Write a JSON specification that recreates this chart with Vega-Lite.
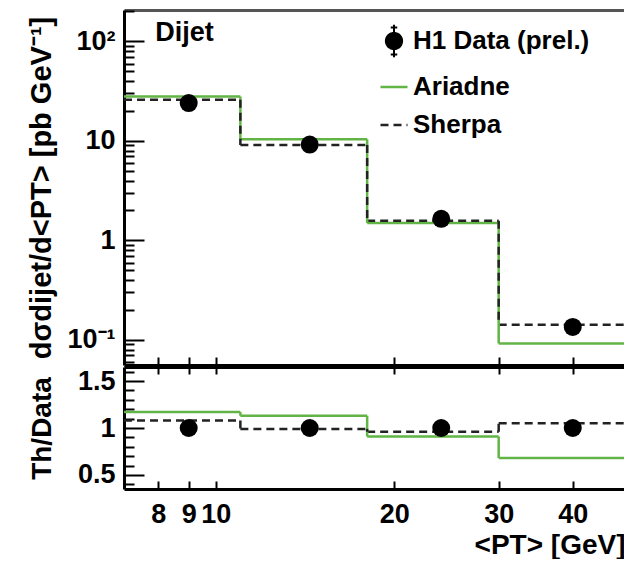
{
  "$schema": "https://vega.github.io/schema/vega-lite/v6.json",
  "background": "white",
  "padding": {"left": 26, "top": 10, "right": 0, "bottom": 0},
  "spacing": 0,
  "config": {
    "view": {"stroke": null},
    "font": "Liberation Sans",
    "axis": {
      "labelFont": "Liberation Sans", "labelFontWeight": "bold", "labelFontSize": 27, "labelColor": "black",
      "titleFont": "Liberation Sans", "titleFontWeight": "bold", "titleFontSize": 28, "titleColor": "black",
      "domainColor": "black", "domainWidth": 3, "tickColor": "black", "tickWidth": 2, "grid": false
    }
  },
  "datasets": {
    "spectrum": [
      {"lo": 7, "hi": 11, "pt": 9, "data": 24, "Ariadne": 28, "Sherpa": 26},
      {"lo": 11, "hi": 18, "pt": 14.4, "data": 9.2, "Ariadne": 10.4, "Sherpa": 9.1},
      {"lo": 18, "hi": 30, "pt": 24, "data": 1.65, "Ariadne": 1.5, "Sherpa": 1.58},
      {"lo": 30, "hi": 50, "pt": 40, "data": 0.135, "Ariadne": 0.092, "Sherpa": 0.142}
    ],
    "ratio": [
      {"lo": 7, "hi": 11, "pt": 9, "data": 1, "Ariadne": 1.17, "Sherpa": 1.08},
      {"lo": 11, "hi": 18, "pt": 14.4, "data": 1, "Ariadne": 1.13, "Sherpa": 0.99},
      {"lo": 18, "hi": 30, "pt": 24, "data": 1, "Ariadne": 0.91, "Sherpa": 0.96},
      {"lo": 30, "hi": 50, "pt": 40, "data": 1, "Ariadne": 0.68, "Sherpa": 1.05}
    ]
  },
  "resolve": {"scale": {"color": "independent", "strokeDash": "independent"}, "legend": {"color": "independent"}},
  "vconcat": [
    {
      "width": 501,
      "height": 355,
      "resolve": {"axis": {"y": "independent"}},
      "layer": [
        {
          "data": {"name": "spectrum"},
          "transform": [{"fold": ["Ariadne", "Sherpa"], "as": ["model", "xsec"]}],
          "mark": {"type": "rule", "clip": true, "strokeWidth": 2.5},
          "encoding": {
            "x": {"field": "lo", "type": "quantitative",
              "scale": {"type": "log", "domain": [7, 49], "nice": false},
              "axis": {"orient": "bottom", "values": [8, 9, 10, 20, 30, 40], "labels": false, "tickSize": -8, "title": null}},
            "x2": {"field": "hi"},
            "y": {"field": "xsec", "type": "quantitative",
              "scale": {"type": "log", "domain": [0.056, 207], "nice": false},
              "axis": {"orient": "left", "values": [0.1, 1, 10, 100], "offset": -20, "tickSize": 20, "labelPadding": 9,
                "domain": false, "labelOverlap": false,
                "labelExpr": "datum.value == 100 ? '10²' : datum.value == 0.1 ? '10⁻¹' : datum.value == 10 ? '10' : '1'",
                "title": "dσdijet/d<PT> [pb GeV⁻¹]", "titleFontSize": 29, "titleX": -88}},
            "color": {"field": "model", "type": "nominal",
              "scale": {"domain": ["H1 Data (prel.)", "Ariadne", "Sherpa"], "range": ["black", "#62b446", "#222222"]},
              "legend": {
                "orient": "none", "legendX": 257, "legendY": 18, "title": null, "padding": 0,
                "labelFont": "Liberation Sans", "labelFontSize": 26, "labelFontWeight": "bold", "labelColor": "black", "labelLimit": 400,
                "labelOffset": 6, "rowPadding": 12, "symbolSize": 900, "symbolStrokeWidth": 2.5,
                "encode": {"symbols": {"update": {
                  "shape": {"signal": "datum.value === 'H1 Data (prel.)' ? 'M-0.45,0A0.45,0.45 0 1 0 0.45,0A0.45,0.45 0 1 0 -0.45,0Z M0,-0.9V0.9 M-0.18,-0.75H0.18 M-0.18,0.75H0.18' : 'stroke'"},
                  "size": {"signal": "datum.value === 'H1 Data (prel.)' ? 1296 : 729"},
                  "fill": {"signal": "datum.value === 'H1 Data (prel.)' ? 'black' : 'transparent'"},
                  "strokeDash": {"signal": "datum.value === 'Sherpa' ? [8, 5] : [1, 0]"},
                  "strokeWidth": {"signal": "datum.value === 'H1 Data (prel.)' ? 2 : 2.5"}
                }}}
              }},
            "strokeDash": {"field": "model", "type": "nominal",
              "scale": {"domain": ["Ariadne", "Sherpa"], "range": [[1, 0], [8, 5]]}, "legend": null}
          }
        },
        {
          "data": {"name": "spectrum"},
          "transform": [
            {"fold": ["Ariadne", "Sherpa"], "as": ["model", "xsec"]},
            {"window": [{"op": "lead", "field": "xsec", "as": "next"}], "groupby": ["model"], "sort": [{"field": "lo"}]},
            {"filter": "datum.next != null"}
          ],
          "mark": {"type": "rule", "clip": true, "strokeWidth": 2.5},
          "encoding": {
            "x": {"field": "hi", "type": "quantitative",
              "axis": {"orient": "top", "ticks": false, "labels": false, "domainColor": "#555555", "title": null}},
            "y": {"field": "xsec", "type": "quantitative",
              "axis": {"orient": "left",
                "values": [0.06, 0.07, 0.08, 0.09, 0.2, 0.3, 0.4, 0.5, 0.6, 0.7, 0.8, 0.9, 2, 3, 4, 5, 6, 7, 8, 9, 20, 30, 40, 50, 60, 70, 80, 90, 200],
                "offset": -10, "tickSize": 10, "labels": false, "domain": false, "title": null}},
            "y2": {"field": "next"},
            "color": {"field": "model", "type": "nominal"},
            "strokeDash": {"field": "model", "type": "nominal"}
          }
        },
        {
          "data": {"name": "spectrum"},
          "mark": {"type": "point", "shape": "circle", "filled": true, "size": 324, "color": "black", "opacity": 1},
          "encoding": {
            "x": {"field": "pt", "type": "quantitative", "axis": null},
            "y": {"field": "data", "type": "quantitative",
              "axis": {"orient": "left", "ticks": false, "labels": false, "title": null}}
          }
        },
        {
          "data": {"values": [{"label": "Dijet"}]},
          "mark": {"type": "text", "align": "left", "baseline": "alphabetic", "font": "Liberation Sans", "fontSize": 27, "fontWeight": "bold", "color": "black"},
          "encoding": {
            "text": {"field": "label"},
            "x": {"datum": 7.9, "type": "quantitative", "axis": null},
            "y": {"datum": 100, "type": "quantitative", "axis": null}
          }
        }
      ]
    },
    {
      "width": 501,
      "height": 122,
      "resolve": {"axis": {"y": "independent"}},
      "layer": [
        {
          "data": {"name": "ratio"},
          "transform": [{"fold": ["Ariadne", "Sherpa"], "as": ["model", "ratio"]}],
          "mark": {"type": "rule", "clip": true, "strokeWidth": 2.5},
          "encoding": {
            "x": {"field": "lo", "type": "quantitative",
              "scale": {"type": "log", "domain": [7, 49], "nice": false},
              "axis": {"orient": "bottom", "values": [8, 9, 10, 20, 30, 40], "format": "d", "labelOverlap": false,
                "tickSize": -8, "labelPadding": 20, "title": "<PT> [GeV]", "titleAnchor": "end", "titlePadding": 4}},
            "x2": {"field": "hi"},
            "y": {"field": "ratio", "type": "quantitative",
              "scale": {"domain": [0.35, 1.65], "nice": false, "zero": false},
              "axis": {"orient": "left", "values": [0.5, 1, 1.5], "format": "~g", "offset": -20, "tickSize": 20, "labelPadding": 9,
                "domain": false, "labelOverlap": false, "title": "Th/Data", "titleX": -88}},
            "color": {"field": "model", "type": "nominal",
              "scale": {"domain": ["Ariadne", "Sherpa"], "range": ["#62b446", "#222222"]}, "legend": null},
            "strokeDash": {"field": "model", "type": "nominal",
              "scale": {"domain": ["Ariadne", "Sherpa"], "range": [[1, 0], [8, 5]]}, "legend": null}
          }
        },
        {
          "data": {"name": "ratio"},
          "transform": [
            {"fold": ["Ariadne", "Sherpa"], "as": ["model", "ratio"]},
            {"window": [{"op": "lead", "field": "ratio", "as": "next"}], "groupby": ["model"], "sort": [{"field": "lo"}]},
            {"filter": "datum.next != null"}
          ],
          "mark": {"type": "rule", "clip": true, "strokeWidth": 2.5},
          "encoding": {
            "x": {"field": "hi", "type": "quantitative",
              "axis": {"orient": "top", "values": [8, 9, 10, 20, 30, 40], "labels": false, "tickSize": -7, "title": null}},
            "y": {"field": "ratio", "type": "quantitative",
              "axis": {"orient": "left", "values": [0.4, 0.6, 0.7, 0.8, 0.9, 1.1, 1.2, 1.3, 1.4, 1.6],
                "offset": -10, "tickSize": 10, "labels": false, "domain": false, "title": null}},
            "y2": {"field": "next"},
            "color": {"field": "model", "type": "nominal", "legend": null},
            "strokeDash": {"field": "model", "type": "nominal", "legend": null}
          }
        },
        {
          "data": {"name": "ratio"},
          "mark": {"type": "point", "shape": "circle", "filled": true, "size": 324, "color": "black", "opacity": 1},
          "encoding": {
            "x": {"field": "pt", "type": "quantitative", "axis": null},
            "y": {"field": "data", "type": "quantitative",
              "axis": {"orient": "left", "ticks": false, "labels": false, "title": null}}
          }
        }
      ]
    }
  ]
}
